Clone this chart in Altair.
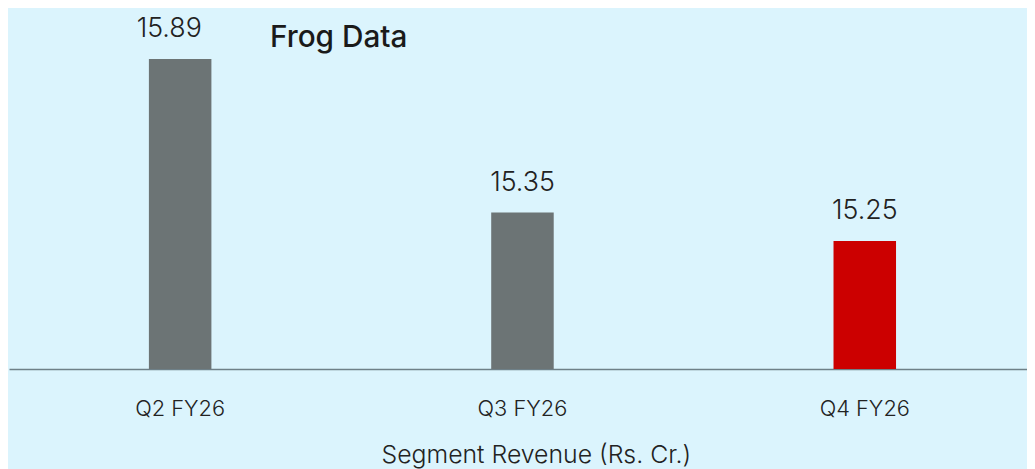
import altair as alt
import pandas as pd

quarters = ["Q2 FY26", "Q3 FY26", "Q4 FY26"]
values = [15.89, 15.35, 15.25]
colors = ["#6c7475", "#6c7475", "#cc0000"]
chart_title = ["Frog Data"]

df = pd.DataFrame({"quarter": quarters, "value": values, "color": colors})
title_df = pd.DataFrame({"t": chart_title})

FONT = "Inter"

x = alt.X(
    "quarter:N",
    sort=quarters,
    scale=alt.Scale(paddingInner=0, paddingOuter=0, range=[0, 1035]),
    axis=alt.Axis(
        title="Segment Revenue (Rs. Cr.)",
        labelAngle=0,
        labelFontSize=22,
        labelFont=FONT,
        labelFontWeight=300,
        labelColor="#222222",
        labelPadding=30,
        ticks=False,
        tickSize=0,
        domainColor="#6e8088",
        domainWidth=1.5,
        titleFontSize=25,
        titleFont=FONT,
        titleFontWeight=300,
        titleColor="#222222",
        titleBaseline="alphabetic",
        titleY=94,
        titleX=531,
        titleAlign="center",
    ),
)
y = alt.Y(
    "value:Q",
    scale=alt.Scale(domain=[14.8, 16.0], zero=False, nice=False),
    axis=None,
)

bars = alt.Chart(df).mark_bar(size=63, clip=True).encode(
    x=x, y=y, color=alt.Color("color:N", scale=None)
)
label_style = dict(font=FONT, fontSize=27, fontWeight=300, color="#222222",
                   baseline="alphabetic", dy=-22)
labels_first = alt.Chart(df).transform_filter(
    alt.datum.quarter == quarters[0]
).mark_text(dx=-11, **label_style).encode(
    x=x, y=y, text=alt.Text("value:Q", format=".2f"))
labels_rest = alt.Chart(df).transform_filter(
    alt.datum.quarter != quarters[0]
).mark_text(**label_style).encode(
    x=x, y=y, text=alt.Text("value:Q", format=".2f"))

title = alt.Chart(title_df).mark_text(
    font=FONT, fontSize=30, fontWeight=500, color="#1a1a1a",
    align="left", baseline="alphabetic",
).encode(x=alt.value(263), y=alt.value(20), text="t:N")

chart = (
    alt.layer(bars, labels_first, labels_rest, title)
    .properties(
        width=1026,
        height=344,
        autosize=alt.AutoSizeParams(type="none"),
        padding={"left": 1, "top": 18, "right": 0, "bottom": 99},
        background="#dbf4fd",
    )
    .configure_view(stroke=None)
)

chart.save("out.html", embed_options={"renderer": "svg", "actions": False})
